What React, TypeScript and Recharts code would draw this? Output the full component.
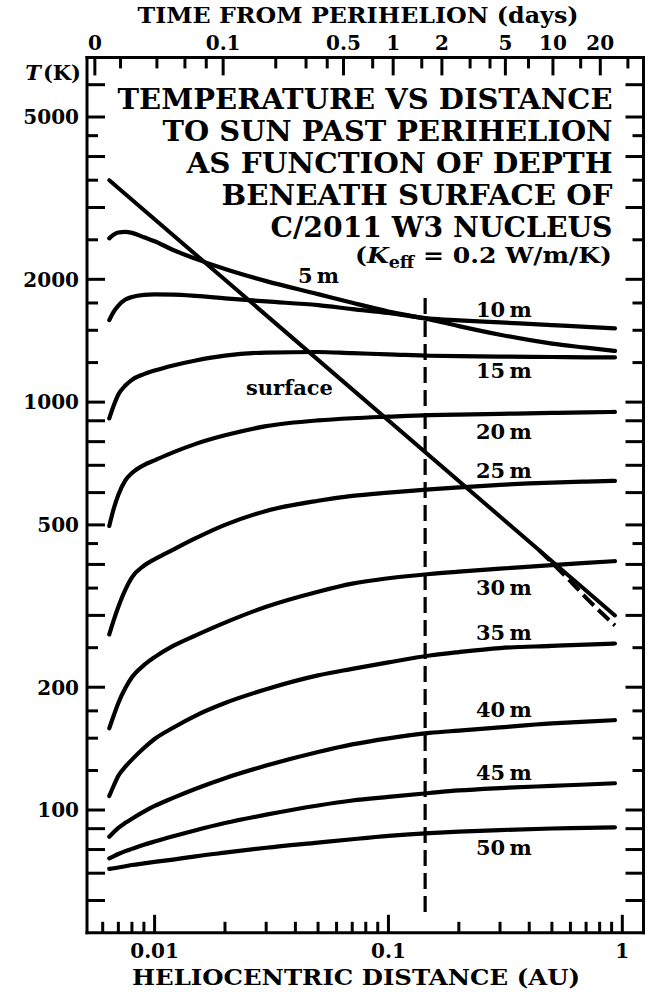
import React from "react";
import { LineChart, Line, XAxis, YAxis, ReferenceLine } from "recharts";

const W = 665;
const H = 992;

// axis bands around the plot frame
const TOP_AXIS_H = 57.4;
const BOTTOM_AXIS_H = 59.2;
const LEFT_AXIS_W = 87;
const RIGHT_AXIS_W = 21.5;
const PLOT = {
  left: LEFT_AXIS_W,
  right: W - RIGHT_AXIS_W,
  top: TOP_AXIS_H,
  bottom: H - BOTTOM_AXIS_H,
};

const FONT = "'DejaVu Serif', serif";
const LONG_TICK = 18;
const SHORT_TICK = 11;
const INK = "#000";

const X_DOMAIN: [number, number] = [0.00514, 1.232];
const Y_DOMAIN: [number, number] = [50, 7000];

// perihelion distance of C/2011 W3 (AU) and Gaussian constant, for the time axis
const Q_AU = 0.005553;
const GAUSS_K = 0.01720209895;

// heliocentric distances (AU) at which the depth curves are sampled
const DIST = [
  0.0064, 0.0067, 0.007, 0.0075, 0.008, 0.009, 0.01, 0.012, 0.015, 0.02,
  0.03, 0.05, 0.07, 0.1, 0.15, 0.2, 0.3, 0.5, 0.7, 0.93,
];

// temperatures (K) beneath the surface, one list per depth
const T_5M = [2520, 2575, 2605, 2615, 2600, 2535, 2480, 2360, 2245, 2120, 1980, 1840, 1752, 1668, 1595, 1536, 1463, 1391, 1360, 1335];
const T_10M = [1589, 1670, 1725, 1785, 1810, 1832, 1837, 1835, 1822, 1797, 1765, 1729, 1691, 1654, 1602, 1587, 1568, 1544, 1530, 1517];
const T_15M = [912, 984, 1044, 1098, 1134, 1171, 1195, 1230, 1265, 1300, 1323, 1327, 1318, 1310, 1299, 1296, 1293, 1290, 1288, 1287];
const T_20M = [497, 550, 593, 643, 670, 701, 720, 753, 790, 829, 873, 902, 913, 921, 929, 932, 936, 941, 944, 946];
const T_25M = [269.5, 293, 315, 347, 372, 397, 412, 435, 464, 500, 541, 573, 589, 600, 611, 618, 627, 635, 638.5, 641];
const T_30M = [158.6, 171, 183, 199, 211.5, 226.5, 237, 252.5, 268, 288, 315, 343, 359, 370, 379, 384, 390.5, 398.5, 403.5, 407.5];
const T_35M = [108.2, 115, 121.3, 127.7, 132.9, 141.9, 149.3, 159.1, 170.4, 182.9, 197.7, 213.8, 221.8, 230.1, 239.2, 243.9, 249.5, 252.5, 254.5, 256];
const T_40M = [86, 88.3, 90.4, 93, 95.2, 99.1, 102.3, 107.1, 112.8, 119.7, 128.5, 138.7, 144.8, 149.9, 154.5, 156.6, 159.5, 163, 164.7, 166.1];
const T_45M = [76.1, 77.1, 78, 79.3, 80.3, 82.2, 83.7, 86.2, 89.2, 92.9, 97.4, 102.6, 105.5, 107.7, 110.1, 111.7, 113.2, 114.6, 115.5, 116.3];
const T_50M = [71.7, 72, 72.3, 72.8, 73.3, 74, 74.6, 75.6, 77, 78.6, 80.8, 83.2, 84.8, 86.4, 87.8, 88.5, 89.3, 90.1, 90.4, 90.7];

// surface temperature, and its alternative branch near 1 AU (dashed)
const SURF_DIST = [0.0064, 0.93];
const SURF_T = [3500, 300];
const SURF_ALT_DIST = [0.44, 0.58, 0.72, 0.93];
const SURF_ALT_T = [434, 371, 326, 283.5];

// vertical marker
const MARK_DIST = 0.1435;
const MARK_T_RANGE = [1800, 55];

// axis ticks
const DIST_TICKS = [
  0.006, 0.007, 0.008, 0.009, 0.01, 0.02, 0.03, 0.04, 0.05, 0.06, 0.07, 0.08, 0.09,
  0.1, 0.2, 0.3, 0.4, 0.5, 0.6, 0.7, 0.8, 0.9, 1,
];
const DIST_LABELS = [0.01, 0.1, 1];
const TIME_TICKS = [0, 0.02, 0.04, 0.06, 0.08, 0.1, 0.2, 0.3, 0.4, 0.5, 0.75, 1, 1.5, 2, 3, 4, 5, 7, 10, 15, 20, 30];
const TIME_LABELS = [0, 0.1, 0.5, 1, 2, 5, 10, 20];
const TEMP_TICKS = [
  60, 70, 80, 90, 100, 125, 150, 175, 200, 250, 300, 350, 400, 450, 500, 600, 700, 800, 900,
  1000, 1250, 1500, 1750, 2000, 2500, 3000, 3500, 4000, 4500, 5000, 6000,
];
const TEMP_SHORT = [125, 150, 175, 250, 350, 450, 1250, 1500, 1750, 2500, 3500, 4500];
const TEMP_LABELS = [100, 200, 500, 1000, 2000, 5000];

const DEPTHS = [
  { depth: 5, temps: T_5M },
  { depth: 10, temps: T_10M },
  { depth: 15, temps: T_15M },
  { depth: 20, temps: T_20M },
  { depth: 25, temps: T_25M },
  { depth: 30, temps: T_30M },
  { depth: 35, temps: T_35M },
  { depth: 40, temps: T_40M },
  { depth: 45, temps: T_45M },
  { depth: 50, temps: T_50M },
];

const TITLE_LINES = [
  "TEMPERATURE VS DISTANCE",
  "TO SUN PAST PERIHELION",
  "AS FUNCTION OF DEPTH",
  "BENEATH SURFACE OF",
  "C/2011 W3 NUCLEUS",
];

// parabolic orbit (Barker's equation): days from perihelion -> distance in AU
function daysToAU(t: number): number {
  const c = (Math.SQRT2 * Math.pow(Q_AU, 1.5)) / GAUSS_K;
  const m = t / c;
  const u = Math.cbrt((3 * m + Math.sqrt(9 * m * m + 4)) / 2);
  const d = u - 1 / u;
  return Q_AU * (1 + d * d);
}

const TIME_TICK_AU = TIME_TICKS.map(daysToAU);

const toPoints = (rs: number[], ts: number[]) => rs.map((r, i) => ({ r, t: ts[i] }));

const labelStyle = {
  fontFamily: FONT,
  fontWeight: 700,
  fontSize: 20,
  fill: INK,
} as const;

const AXIS_LINE = { stroke: INK, strokeWidth: 3, strokeLinecap: "square" as const };

function renderDistTick(props: any) {
  const x = props.x;
  const v = props.payload.value;
  const major = DIST_LABELS.includes(v);
  return (
    <g>
      <line x1={x} x2={x} y1={PLOT.bottom} y2={PLOT.bottom - (major ? LONG_TICK : SHORT_TICK)} stroke={INK} strokeWidth={3} />
      {major && (
        <text x={x} y={PLOT.bottom + 25} textAnchor="middle" {...labelStyle}>
          {String(v)}
        </text>
      )}
    </g>
  );
}

function renderTimeTick(props: any) {
  const x = props.x;
  const days = TIME_TICKS[props.index];
  const major = TIME_LABELS.includes(days);
  return (
    <g>
      <line x1={x} x2={x} y1={PLOT.top} y2={PLOT.top + (major ? LONG_TICK : SHORT_TICK)} stroke={INK} strokeWidth={3} />
      {major && (
        <text x={x} y={PLOT.top - 7} textAnchor="middle" {...labelStyle}>
          {String(days)}
        </text>
      )}
    </g>
  );
}

function renderLeftTick(props: any) {
  const y = props.y;
  const v = props.payload.value;
  const len = TEMP_SHORT.includes(v) ? SHORT_TICK : LONG_TICK;
  return (
    <g>
      <line x1={PLOT.left} x2={PLOT.left + len} y1={y} y2={y} stroke={INK} strokeWidth={3} />
      {TEMP_LABELS.includes(v) && (
        <text x={PLOT.left - 8} y={y + 7.3} textAnchor="end" {...labelStyle}>
          {String(v)}
        </text>
      )}
    </g>
  );
}

function renderRightTick(props: any) {
  const y = props.y;
  const v = props.payload.value;
  const len = TEMP_SHORT.includes(v) ? SHORT_TICK : LONG_TICK;
  return <line x1={PLOT.right} x2={PLOT.right - len} y1={y} y2={y} stroke={INK} strokeWidth={3} />;
}

// depth labels beside the curves: [text, x, baseline]
const CURVE_LABELS: [string, number, number][] = [
  ["5\u2009m", 298, 283],
  ["surface", 246, 395],
  ["10\u2009m", 476, 317],
  ["15\u2009m", 476, 378],
  ["20\u2009m", 476, 439],
  ["25\u2009m", 476, 478],
  ["30\u2009m", 476, 594.5],
  ["35\u2009m", 476, 639.5],
  ["40\u2009m", 476, 716.5],
  ["45\u2009m", 476, 779.5],
  ["50\u2009m", 476, 855],
];

const TITLE_WIDTHS = [495, 450, 426, 391, 342];

export default function App() {
  const text = { fontFamily: FONT, fontWeight: 700, fill: INK } as const;
  return (
    <div style={{ position: "absolute", left: 0, top: 0, width: W, height: H, background: "#fff" }}>
      <LineChart width={W} height={H} margin={{ top: 0, right: 0, bottom: 0, left: 0 }}>
        <XAxis
          xAxisId="dist"
          dataKey="r"
          type="number"
          scale="log"
          domain={X_DOMAIN}
          allowDataOverflow
          orientation="bottom"
          height={BOTTOM_AXIS_H}
          ticks={DIST_TICKS}
          interval={0}
          tickSize={0}
          tickMargin={0}
          tickLine={false}
          axisLine={AXIS_LINE}
          tick={renderDistTick}
        />
        <XAxis
          xAxisId="time"
          dataKey="r"
          type="number"
          scale="log"
          domain={X_DOMAIN}
          allowDataOverflow
          orientation="top"
          height={TOP_AXIS_H}
          ticks={TIME_TICK_AU}
          interval={0}
          tickSize={0}
          tickMargin={0}
          tickLine={false}
          axisLine={AXIS_LINE}
          tick={renderTimeTick}
        />
        <YAxis
          yAxisId="temp"
          type="number"
          scale="log"
          domain={Y_DOMAIN}
          allowDataOverflow
          orientation="left"
          width={LEFT_AXIS_W}
          ticks={TEMP_TICKS}
          interval={0}
          tickSize={0}
          tickMargin={0}
          tickLine={false}
          axisLine={AXIS_LINE}
          tick={renderLeftTick}
        />
        <YAxis
          yAxisId="tempR"
          type="number"
          scale="log"
          domain={Y_DOMAIN}
          allowDataOverflow
          orientation="right"
          width={RIGHT_AXIS_W}
          ticks={TEMP_TICKS}
          interval={0}
          tickSize={0}
          tickMargin={0}
          tickLine={false}
          axisLine={AXIS_LINE}
          tick={renderRightTick}
        />
        <ReferenceLine
          xAxisId="dist"
          yAxisId="temp"
          segment={[
            { x: MARK_DIST, y: MARK_T_RANGE[0] },
            { x: MARK_DIST, y: MARK_T_RANGE[1] },
          ]}
          stroke={INK}
          strokeWidth={3.2}
          strokeDasharray="16 7"
        />
        {DEPTHS.map((d) => (
          <Line
            key={d.depth}
            name={`${d.depth} m`}
            xAxisId="dist"
            yAxisId="temp"
            data={toPoints(DIST, d.temps)}
            dataKey="t"
            type="monotone"
            stroke={INK}
            strokeWidth={4.2}
            strokeLinecap="round"
            dot={false}
            isAnimationActive={false}
          />
        ))}
        <Line
          name="surface"
          xAxisId="dist"
          yAxisId="temp"
          data={toPoints(SURF_DIST, SURF_T)}
          dataKey="t"
          type="linear"
          stroke={INK}
          strokeWidth={4}
          strokeLinecap="round"
          dot={false}
          isAnimationActive={false}
        />
        <Line
          name="surface alt"
          xAxisId="dist"
          yAxisId="temp"
          data={toPoints(SURF_ALT_DIST, SURF_ALT_T)}
          dataKey="t"
          type="monotone"
          stroke={INK}
          strokeWidth={4}
          strokeDasharray="15 6"
          dot={false}
          isAnimationActive={false}
        />
      </LineChart>

      <svg width={W} height={H} style={{ position: "absolute", left: 0, top: 0, pointerEvents: "none" }}>
        <text x={358} y={23} textAnchor="middle" fontSize={22} textLength={441} lengthAdjust="spacingAndGlyphs" {...text}>
          TIME FROM PERIHELION (days)
        </text>
        <text x={356} y={985} textAnchor="middle" fontSize={21.5} textLength={448} lengthAdjust="spacingAndGlyphs" {...text}>
          HELIOCENTRIC DISTANCE (AU)
        </text>
        <text x={81} y={80} textAnchor="end" fontSize={21} {...text}>
          <tspan fontStyle="italic">T</tspan>
          <tspan dx={2}>(K)</tspan>
        </text>

        {TITLE_LINES.map((line, i) => (
          <text
            key={line}
            x={612.5}
            y={109 + i * 32}
            textAnchor="end"
            fontSize={27}
            textLength={TITLE_WIDTHS[i]}
            lengthAdjust="spacingAndGlyphs"
            {...text}
          >
            {line}
          </text>
        ))}
        <text x={612} y={263} textAnchor="end" fontSize={23} textLength={257} lengthAdjust="spacingAndGlyphs" {...text}>
          (<tspan fontStyle="italic">K</tspan>
          <tspan fontSize={16} dy={5}>eff</tspan>
          <tspan dy={-5}> = 0.2 W/m/K)</tspan>
        </text>

        {CURVE_LABELS.map(([s, x, y]) => (
          <text key={s} x={x} y={y} fontSize={21} {...text}>
            {s}
          </text>
        ))}
      </svg>
    </div>
  );
}
